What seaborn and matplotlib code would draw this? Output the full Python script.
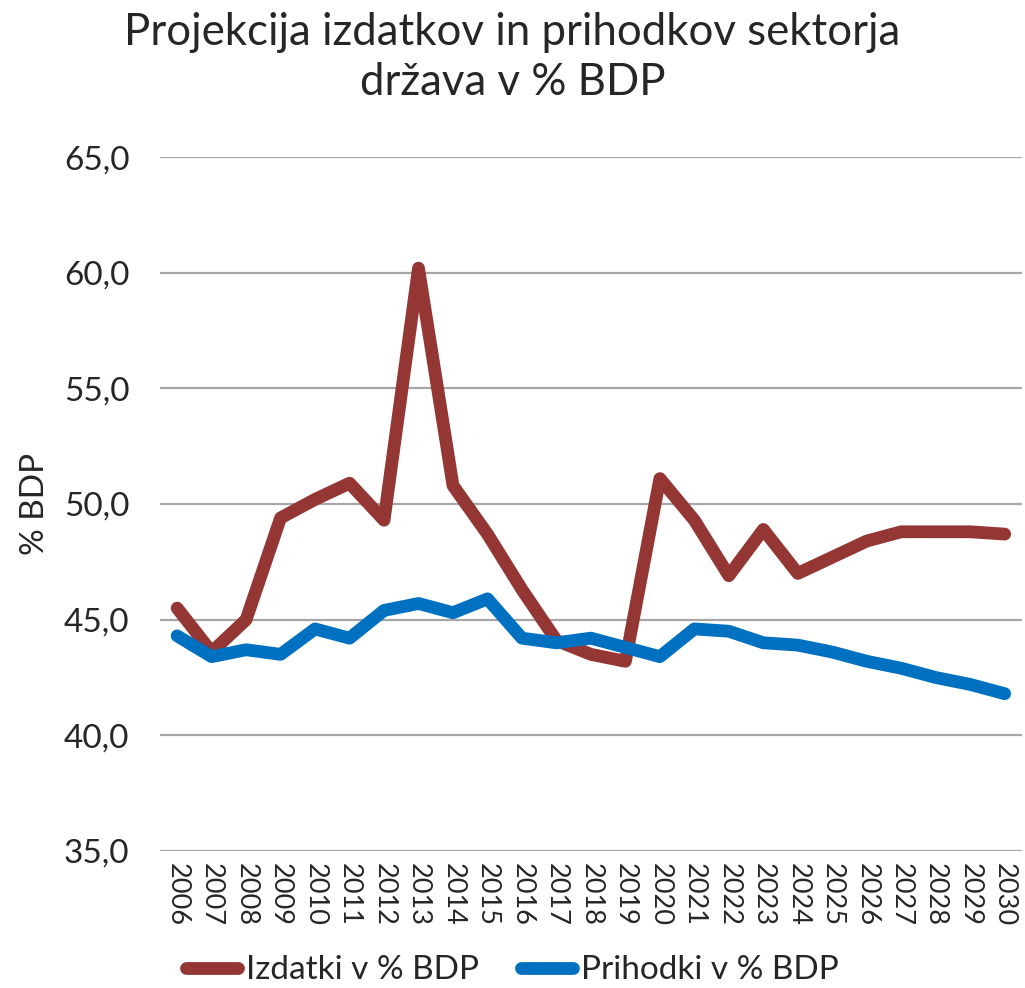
import numpy as np
import pandas as pd
import matplotlib
matplotlib.use("Agg")
import matplotlib.pyplot as plt
import seaborn as sns
from matplotlib.lines import Line2D

years = list(range(2006, 2031))
izdatki = [45.5, 43.6, 45.0, 49.4, 50.2, 50.9, 49.3, 60.2, 50.8, 48.7, 46.3, 44.1,
           43.5, 43.2, 51.1, 49.3, 46.9, 48.9, 47.0, 47.7, 48.4, 48.8, 48.8, 48.8, 48.7]
prihodki = [44.3, 43.4, 43.7, 43.5, 44.6, 44.2, 45.4, 45.7, 45.3, 45.9, 44.2, 44.0,
            44.2, 43.8, 43.4, 44.6, 44.5, 44.0, 43.9, 43.6, 43.2, 42.9, 42.5, 42.2, 41.8]
series_names = ["Izdatki v % BDP", "Prihodki v % BDP"]
colors = ["#943634", "#0070C0"]
yticks = [35, 40, 45, 50, 55, 60, 65]
title = "Projekcija izdatkov in prihodkov sektorja\ndržava v % BDP"
ylabel = "% BDP"

df = pd.DataFrame({
    "Leto": years * 2,
    "Vrednost": izdatki + prihodki,
    "Serija": [series_names[0]] * len(years) + [series_names[1]] * len(years),
})

sns.set_theme(style="white")
plt.rcParams["font.family"] = ["Lato", "DejaVu Sans"]

fig = plt.figure(figsize=(10.25, 9.88), dpi=100)
ax = fig.add_axes([0.156, 0.1387, 0.841, 0.7023])

sns.lineplot(data=df, x="Leto", y="Vrednost", hue="Serija", palette=colors,
             hue_order=series_names, linewidth=9.2, ax=ax, legend=False, sort=False)
for ln in ax.get_lines():
    ln.set_solid_capstyle("round")
    ln.set_solid_joinstyle("round")

ax.set_ylim(35, 65)
ax.set_xlim(years[0] - 0.5, years[-1] + 0.5)
ax.set_yticks(yticks)
ax.set_yticklabels([f"{v:.1f}".replace(".", ",") for v in yticks], fontsize=24)
ax.set_xticks(years)
ax.set_xticklabels([str(y) for y in years], rotation=-90, fontsize=19.5)
ax.tick_params(axis="x", length=0, pad=9)
ax.tick_params(axis="y", length=0, pad=22)
ax.yaxis.grid(True, color="#A6A6A6", linewidth=1.6)
ax.xaxis.grid(False)
ax.set_axisbelow(True)
for s in ax.spines.values():
    s.set_visible(False)
ax.set_xlabel("")
ax.set_ylabel(ylabel, fontsize=24, labelpad=10)

fig.text(0.5, 0.988, title, ha="center", va="top", fontsize=31.5, linespacing=1.28)

handles = [Line2D([0], [0], color=c, linewidth=9.2, solid_capstyle="round") for c in colors]
fig.legend(handles, series_names, loc="center", bbox_to_anchor=(0.5, 0.018),
           ncol=2, frameon=False, fontsize=24, handlelength=1.55, handletextpad=0.25,
           columnspacing=1.25)

fig.savefig("out.png", dpi=100)
